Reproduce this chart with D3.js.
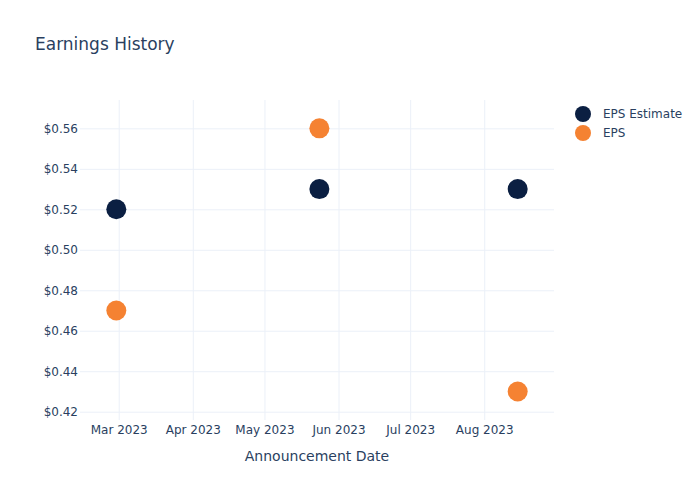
<!DOCTYPE html>
<html>
<head>
<meta charset="utf-8">
<script src="https://cdn.jsdelivr.net/npm/d3@7"></script>
<style>
  body { margin: 0; background: #fff; }
  svg, svg text { font-family: "DejaVu Sans", Verdana, sans-serif; }
</style>
</head>
<body>
<svg id="chart" width="700" height="500"></svg>
<script>
// ---- data ----
const dates = ["2023-02-28", "2023-05-24", "2023-08-15"];
const epsEstimate = [0.52, 0.53, 0.53];
const eps = [0.47, 0.56, 0.43];
const yTicks = [0.42, 0.44, 0.46, 0.48, 0.50, 0.52, 0.54, 0.56];
const xTickDates = ["2023-03-01", "2023-04-01", "2023-05-01", "2023-06-01", "2023-07-01", "2023-08-01"];
const seriesNames = ["EPS Estimate", "EPS"];
const seriesColors = ["#0b1f42", "#f58232"];
const title = "Earnings History";
const xTitle = "Announcement Date";

// ---- layout ----
const W = 700, H = 500;
const plot = { left: 80, right: 554, top: 100, bottom: 420 };
const textColor = "#2a3f5f";
const gridColor = "#ebf0f8";
const font = '"DejaVu Sans", Verdana, sans-serif';

const parse = d3.utcParse("%Y-%m-%d");
const DAY = 86400000;
const mar1 = parse("2023-03-01").getTime();
const x = d3.scaleUtc()
  .domain([new Date(mar1 - 16.2 * DAY), new Date(mar1 + 182.2 * DAY)])
  .range([plot.left, plot.right]);
const y = d3.scaleLinear()
  .domain([0.4159, 0.5740])
  .range([plot.bottom, plot.top]);

const svg = d3.select("#chart");

// gridlines
const gx = svg.append("g")
  .attr("transform", `translate(0,${plot.bottom})`)
  .call(d3.axisBottom(x)
    .tickValues(xTickDates.map(parse))
    .tickSize(-(plot.bottom - plot.top))
    .tickFormat(d3.utcFormat("%b %Y")));
gx.attr("font-family", font).attr("font-size", 12);
gx.select(".domain").remove();
gx.selectAll(".tick line").attr("stroke", gridColor).attr("stroke-width", 1);
gx.selectAll(".tick text").attr("fill", textColor).attr("font-size", 12).attr("dy", "0.71em").attr("y", 5);

const gy = svg.append("g")
  .attr("transform", `translate(${plot.left},0)`)
  .call(d3.axisLeft(y)
    .tickValues(yTicks)
    .tickSize(-(plot.right - plot.left))
    .tickFormat(d => "$" + d3.format(".2f")(d)));
gy.attr("font-family", font).attr("font-size", 12);
gy.select(".domain").remove();
gy.selectAll(".tick line").attr("stroke", gridColor).attr("stroke-width", 1);
gy.selectAll(".tick text").attr("fill", textColor).attr("font-size", 12).attr("x", -2);

// points
const seriesData = [epsEstimate, eps];
seriesData.forEach((vals, si) => {
  svg.append("g").selectAll("circle")
    .data(vals.map((v, i) => ({ date: parse(dates[i]), v })))
    .join("circle")
    .attr("cx", d => x(d.date))
    .attr("cy", d => y(d.v))
    .attr("r", 10)
    .attr("fill", seriesColors[si]);
});

// title
svg.append("text")
  .attr("x", 35).attr("y", 50)
  .attr("fill", textColor)
  .attr("font-size", 17)
  .text(title);

// x axis title
svg.append("text")
  .attr("x", (plot.left + plot.right) / 2).attr("y", 461)
  .attr("text-anchor", "middle")
  .attr("fill", textColor)
  .attr("font-size", 14)
  .text(xTitle);

// legend
const lg = svg.append("g");
seriesNames.forEach((name, i) => {
  const ly = 114 + i * 19;
  lg.append("circle").attr("cx", 583).attr("cy", ly).attr("r", 8).attr("fill", seriesColors[i]);
  lg.append("text").attr("x", 603).attr("y", ly).attr("dy", "0.35em")
    .attr("fill", textColor).attr("font-size", 12).text(name);
});
</script>
</body>
</html>
